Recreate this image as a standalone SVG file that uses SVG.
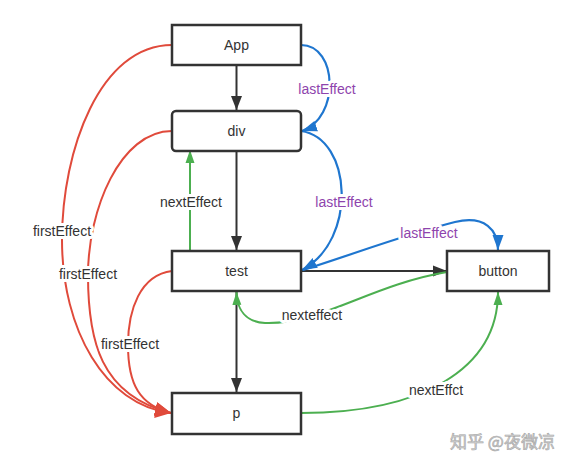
<svg xmlns="http://www.w3.org/2000/svg" width="573" height="460" viewBox="0 0 573 460">
  <style>
    .box { fill: #fff; stroke: #333; stroke-width: 2.5; }
    .txt { font-family: "Liberation Sans", Arial, sans-serif; font-size: 14px; fill: #333; text-anchor: middle; }
    .lbl { font-family: "Liberation Sans", Arial, sans-serif; font-size: 14px; text-anchor: middle; paint-order: stroke; stroke: #fff; stroke-width: 6px; stroke-linejoin: round; }
    .dark { fill: #333; }
    .purple { fill: #8e44ad; }
    .blk { fill: none; stroke: #333; stroke-width: 2; }
    .red { fill: none; stroke: #e04a3b; stroke-width: 2; }
    .blue { fill: none; stroke: #1f76cf; stroke-width: 2.2; }
    .green { fill: none; stroke: #4caf50; stroke-width: 2; }
    .wm { font-family: "Noto Sans CJK SC", "Liberation Sans", sans-serif; font-size: 17px; fill: #d0d0d0; stroke: #a8a8a8; stroke-width: 0.6px; }
  </style>
  <defs>
    <marker id="mBlk" markerWidth="15" markerHeight="12" refX="14" refY="6" orient="auto" markerUnits="userSpaceOnUse">
      <path d="M0,0.5 L14,6 L0,11.5 z" fill="#333"/>
    </marker>
    <marker id="mRed" markerWidth="17" markerHeight="14" refX="16" refY="7" orient="auto" markerUnits="userSpaceOnUse">
      <path d="M0,0 L16,7 L0,14 z" fill="#e04a3b"/>
    </marker>
    <marker id="mBlue" markerWidth="16" markerHeight="12" refX="15" refY="6" orient="auto" markerUnits="userSpaceOnUse">
      <path d="M0,0.5 L15,6 L0,11.5 z" fill="#1f76cf"/>
    </marker>
    <marker id="mGreen" markerWidth="14" markerHeight="10" refX="13" refY="5" orient="auto" markerUnits="userSpaceOnUse">
      <path d="M0,0.5 L13,5 L0,9.5 z" fill="#4caf50"/>
    </marker>
  </defs>
  <rect width="573" height="460" fill="#fff"/>

  <g id="connectors">
    <!-- red firstEffect curves -->
    <path class="red" d="M172,45 C100,45 62,150 62,240 C62,330 105,405 171,413" marker-end="url(#mRed)"/>
    <path class="red" d="M172,131 C120,131 88,210 88,275 C88,340 100,395 171,413" marker-end="url(#mRed)"/>
    <path class="red" d="M172,271 C140,275 128,310 128,345 C128,385 140,405 171,413" marker-end="url(#mRed)"/>
    <!-- black tree edges -->
    <path class="blk" d="M236.5,65 L236.5,110" marker-end="url(#mBlk)"/>
    <path class="blk" d="M236.5,151 L236.5,250" marker-end="url(#mBlk)"/>
    <path class="blk" d="M236.5,292 L236.5,392" marker-end="url(#mBlk)"/>
    <path class="blk" d="M301,271 L447,271" marker-end="url(#mBlk)"/>
    <!-- blue lastEffect -->
    <path class="blue" d="M301,45 C338,45 340,118 302,131" marker-end="url(#mBlue)"/>
    <path class="blue" d="M301,131 C352,138 358,240 302,270" marker-end="url(#mBlue)"/>
    <path class="blue" d="M303,270 C360,252 400,236 455,222 C485,215 498,230 498,250" marker-end="url(#mBlue)"/>
    <!-- green nextEffect -->
    <path class="green" d="M190,251 L190,150" marker-end="url(#mGreen)"/>
    <path class="green" d="M447,272 C370,285 320,325 265,323 C246,322 237,310 236.5,292" marker-end="url(#mGreen)"/>
    <path class="green" d="M301,413 C420,413 498,370 498,292" marker-end="url(#mGreen)"/>
    <!-- labels -->
    <text class="lbl dark" x="62" y="236">firstEffect</text>
    <text class="lbl dark" x="88" y="279">firstEffect</text>
    <text class="lbl dark" x="130" y="349">firstEffect</text>
    <text class="lbl purple" x="327" y="94">lastEffect</text>
    <text class="lbl purple" x="344" y="207">lastEffect</text>
    <text class="lbl purple" x="429" y="238">lastEffect</text>
    <text class="lbl dark" x="191" y="207">nextEffect</text>
    <text class="lbl dark" x="312" y="320">nexteffect</text>
    <text class="lbl dark" x="436" y="395">nextEffct</text>
  </g>

  <g id="node-app">
    <rect class="box" x="172" y="25" width="129" height="40"/>
    <text class="txt" x="236.5" y="50">App</text>
  </g>
  <g id="node-div">
    <rect class="box" x="172" y="111" width="129" height="40" rx="4"/>
    <text class="txt" x="236.5" y="136">div</text>
  </g>
  <g id="node-test">
    <rect class="box" x="172" y="251" width="129" height="40"/>
    <text class="txt" x="236.5" y="276">test</text>
  </g>
  <g id="node-button">
    <rect class="box" x="447" y="251" width="102" height="40"/>
    <text class="txt" x="498" y="276">button</text>
  </g>
  <g id="node-p">
    <rect class="box" x="172" y="393" width="129" height="41"/>
    <text class="txt" x="236.5" y="418">p</text>
  </g>

  <text class="wm" x="450" y="448">知乎 @夜微凉</text>
</svg>
